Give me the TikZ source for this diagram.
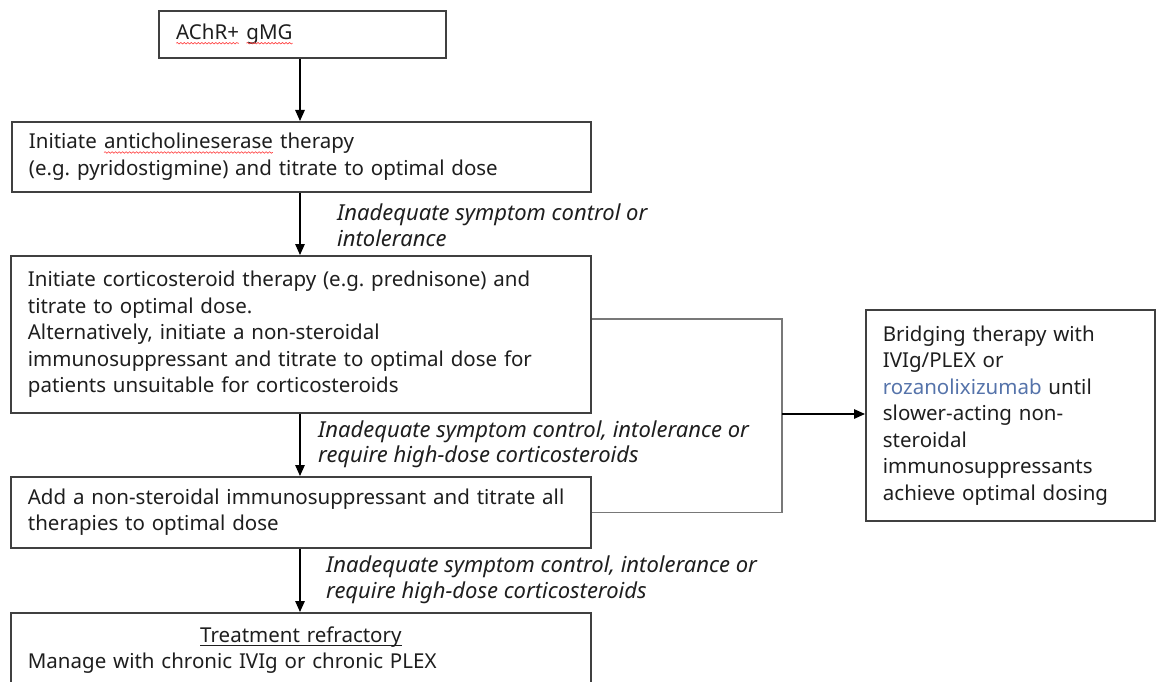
\documentclass[tikz,border=0pt]{standalone}
\usepackage{fontspec}
\setmainfont{Noto Sans}
\usetikzlibrary{arrows.meta,decorations.pathmorphing}
\frenchspacing
\newcommand\myul[1]{\setbox0\hbox{#1}\rlap{\rule[-3.5pt]{\wd0}{0.9pt}}\box0}
\newcommand\squig[1]{\tikz[baseline=(w.base)]{\node[inner sep=0pt,outer sep=0pt,draw=none,text width={},minimum width=0pt,minimum height=0pt,anchor=base](w){#1};\draw[red!75,line width=0.6pt,decorate,decoration={snake,amplitude=0.8pt,segment length=3.5pt}]([yshift=-3.5pt]w.base west)--([yshift=-3.5pt]w.base east);}}
\definecolor{boxline}{RGB}{64,64,64}
\definecolor{conn}{RGB}{120,120,120}
\definecolor{txt}{RGB}{30,30,30}
\definecolor{linkblue}{RGB}{85,115,170}
\begin{document}
\begin{tikzpicture}[x=1pt,y=-1pt,
  box/.style={draw=boxline,line width=1.8pt,anchor=north west,inner sep=0pt,align=left,
    text=txt,font={\fontsize{20.5pt}{26.5pt}\selectfont}},
  lbl/.style={anchor=west,inner sep=0pt,align=left,text=txt,
    font={\fontsize{22pt}{25.5pt}\selectfont\itshape}},
  arr/.style={line width=1.4pt,-{Triangle[length=11pt,width=9.5pt]}},
  link/.style={draw=conn,line width=1.4pt}]
\path[use as bounding box] (0,0) rectangle (1156,682);
\clip (0,0) rectangle (1156,682);
\node[box,minimum width=287pt,minimum height=47pt,text width=253pt] (b1) at (158,10)
  {\squig{AChR+} \squig{gMG}};
\node[box,minimum width=579pt,minimum height=70pt,text width=545pt] (b2) at (11,121)
  {Initiate \squig{anticholineserase} therapy\\(e.g. pyridostigmine) and titrate to optimal dose};
\node[box,minimum width=580pt,minimum height=157pt,text width=546pt] (b3) at (10,255)
  {Initiate corticosteroid therapy (e.g. prednisone) and\\titrate to optimal dose.\\Alternatively, initiate a non-steroidal\\immunosuppressant and titrate to optimal dose for\\patients unsuitable for corticosteroids};
\node[box,minimum width=580pt,minimum height=71pt,text width=546pt] (b4) at (10,476)
  {Add a non-steroidal immunosuppressant and titrate all\\therapies to optimal dose};
\node[box,minimum width=289pt,minimum height=211pt,text width=255pt] (b5) at (865,309)
  {Bridging therapy with\\IVIg/PLEX or\\\textcolor{linkblue}{rozanolixizumab} until\\slower-acting non-\\steroidal\\immunosuppressants\\achieve optimal dosing};
\node[box,minimum width=580pt,minimum height=74pt,text width=546pt,align=center] (b6) at (10,612)
  {\myul{Treatment refractory}\\\makebox[\linewidth][l]{Manage with chronic IVIg or chronic PLEX}};
% arrows
\draw[arr] (b1.south -| 300,0) -- (b2.north -| 300,0);
\draw[arr] (b2.south -| 300,0) -- (b3.north -| 300,0);
\draw[arr] (b3.south -| 300,0) -- (b4.north -| 300,0);
\draw[arr] (b4.south -| 300,0) -- (b6.north -| 300,0);
% labels
\node[lbl] (l1) at (337,225) {Inadequate symptom control or\\intolerance};
\node[lbl] (l2) at (318,444.5) {Inadequate symptom control, intolerance or\\require high-dose corticosteroids};
\node[lbl] (l3) at (326,580) {Inadequate symptom control, intolerance or\\require high-dose corticosteroids};
% bridging connector
\coordinate (c1) at (782,319);
\coordinate (j) at (782,414);
\draw[link] (b3.east |- c1) -- (c1) -- (c1 |- b4.east) -- (b4.east);
\draw[arr] (j) -- (b5.west |- j);
\end{tikzpicture}
\end{document}
